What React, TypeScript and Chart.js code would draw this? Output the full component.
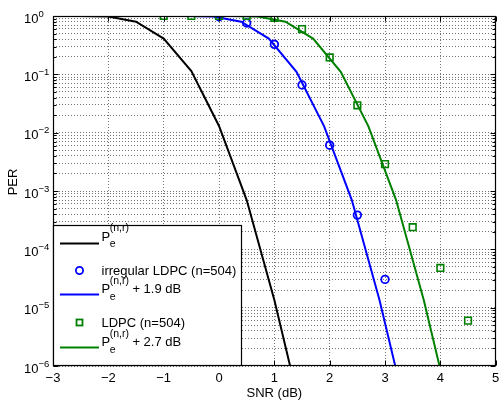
import React, { useEffect, useRef } from "react";
import { Chart, registerables } from "chart.js";

Chart.register(...registerables);

const FONT = "'Liberation Sans', Arial, Helvetica, sans-serif";

// Axis ranges and tick labels
const xAxisMin = -3;
const xAxisMax = 5;
const xTickValues = [-3, -2, -1, 0, 1, 2, 3, 4, 5];
const xTickLabels = ["\u22123", "\u22122", "\u22121", "0", "1", "2", "3", "4", "5"];
const yAxisMin = 1e-6;
const yAxisMax = 1;
const yDecadeValues = [1, 1e-1, 1e-2, 1e-3, 1e-4, 1e-5, 1e-6];
const yDecadeExponents = ["0", "\u22121", "\u22122", "\u22123", "\u22124", "\u22125", "\u22126"];
const xAxisTitle = "SNR (dB)";
const yAxisTitle = "PER";

// Series: P_e^(n,r)
const boundSnr = [-3, -2.5, -2, -1.5, -1, -0.5, 0, 0.5, 1, 1.5];
const boundPer = [1, 1, 0.98, 0.8, 0.41, 0.114, 0.013, 7.0e-4, 1.35e-5, 1.4e-7];
// Series: P_e^(n,r) + 1.9 dB
const bound19Snr = [-1.1, -0.6, -0.1, 0.4, 0.9, 1.4, 1.9, 2.4, 2.9, 3.4];
const bound19Per = [1, 1, 0.98, 0.8, 0.41, 0.11, 0.0128, 7.0e-4, 1.35e-5, 1.4e-7];
// Series: P_e^(n,r) + 2.7 dB
const bound27Snr = [-0.3, 0.2, 0.7, 1.2, 1.7, 2.2, 2.7, 3.2, 3.7, 4.2];
const bound27Per = [1, 1, 0.98, 0.8, 0.41, 0.11, 0.0128, 7.0e-4, 1.35e-5, 1.4e-7];
// Series: irregular LDPC (n=504)
const irregSnr = [0, 0.5, 1, 1.5, 2, 2.5, 3];
const irregPer = [0.97, 0.76, 0.327, 0.0656, 0.0061, 3.86e-4, 3.05e-5];
// Series: LDPC (n=504)
const ldpcSnr = [-1, -0.5, 0, 0.5, 1, 1.5, 2, 2.5, 3, 3.5, 4, 4.5];
const ldpcPer = [1, 1, 1, 1, 0.93, 0.598, 0.195, 0.0294, 0.00289, 2.4e-4, 4.8e-5, 6.0e-6];

const legendIrreg = "irregular LDPC (n=504)";
const legendLdpc = "LDPC (n=504)";
const legendPlus19 = "+ 1.9 dB";
const legendPlus27 = "+ 2.7 dB";

const BLACK = "#000000";
const BLUE = "#0000ff";
const GREEN = "#008000";

const pts = (xs: number[], ys: number[]) => xs.map((x, i) => ({ x, y: ys[i] }));

const isDecade = (v: number) => Math.abs(Math.log10(v) - Math.round(Math.log10(v))) < 1e-6;

function drawPe(ctx: CanvasRenderingContext2D, x: number, baseline: number, suffix?: string) {
  ctx.textAlign = "left";
  ctx.textBaseline = "alphabetic";
  ctx.font = `13px ${FONT}`;
  ctx.fillText("P", x, baseline);
  const pw = ctx.measureText("P").width;
  ctx.font = `10.5px ${FONT}`;
  ctx.fillText("(n,r)", x + pw - 0.5, baseline - 9.5);
  const sw = ctx.measureText("(n,r)").width;
  ctx.fillText("e", x + pw - 0.5, baseline + 6.8);
  if (suffix) {
    ctx.font = `13px ${FONT}`;
    ctx.fillText(suffix, x + pw - 0.5 + sw + 3.5, baseline);
  }
}

const overlayPlugin = {
  id: "matlabOverlay",
  afterDraw(chart: any) {
    const ctx: CanvasRenderingContext2D = chart.ctx;
    const { left, right, top, bottom } = chart.chartArea;
    const xs = chart.scales.x;
    const ys = chart.scales.y;
    const L = Math.round(left) + 0.5;
    const R = Math.round(right) - 0.5;
    const T = Math.round(top) + 0.5;
    const B = Math.round(bottom) - 0.5;
    ctx.save();
    // inside tick marks
    ctx.strokeStyle = BLACK;
    ctx.lineWidth = 1;
    ctx.beginPath();
    ys.ticks.forEach((t: any) => {
      const y = Math.round(ys.getPixelForValue(t.value)) + 0.5;
      const len = isDecade(t.value) ? 5 : 3;
      ctx.moveTo(L, y);
      ctx.lineTo(L + len, y);
      ctx.moveTo(R, y);
      ctx.lineTo(R - len, y);
    });
    xs.ticks.forEach((t: any) => {
      const x = Math.round(xs.getPixelForValue(t.value)) + 0.5;
      ctx.moveTo(x, B);
      ctx.lineTo(x, B - 5);
      ctx.moveTo(x, T);
      ctx.lineTo(x, T + 5);
    });
    ctx.stroke();
    // axes box
    ctx.lineWidth = 1.2;
    ctx.strokeRect(L, T, R - L, B - T);

    // legend
    const lx0 = L;
    const ly0 = 225.5;
    const lx1 = 241.5;
    const ly1 = B;
    ctx.fillStyle = "#ffffff";
    ctx.fillRect(lx0, ly0, lx1 - lx0, ly1 - ly0);
    ctx.strokeStyle = BLACK;
    ctx.lineWidth = 1.2;
    ctx.strokeRect(lx0, ly0, lx1 - lx0, ly1 - ly0);

    const sx0 = 60;
    const sx1 = 99;
    const mx = 79.5;
    const tx = 101.5;
    ctx.lineWidth = 2;
    // entry 1
    ctx.strokeStyle = BLACK;
    ctx.beginPath();
    ctx.moveTo(sx0, 243.5);
    ctx.lineTo(sx1, 243.5);
    ctx.stroke();
    ctx.fillStyle = BLACK;
    drawPe(ctx, tx, 240.5);
    // entry 2
    ctx.strokeStyle = BLUE;
    ctx.lineWidth = 1.8;
    ctx.beginPath();
    ctx.arc(mx, 270.5, 3.6, 0, Math.PI * 2);
    ctx.stroke();
    ctx.fillStyle = BLACK;
    ctx.font = `13px ${FONT}`;
    ctx.fillText(legendIrreg, tx, 274.8);
    // entry 3
    ctx.lineWidth = 2;
    ctx.beginPath();
    ctx.moveTo(sx0, 294.5);
    ctx.lineTo(sx1, 294.5);
    ctx.stroke();
    drawPe(ctx, tx, 293, legendPlus19);
    // entry 4
    ctx.strokeStyle = GREEN;
    ctx.lineWidth = 1.8;
    ctx.strokeRect(mx - 3, 322.5 - 3, 6, 6);
    ctx.font = `13px ${FONT}`;
    ctx.fillText(legendLdpc, tx, 327.3);
    // entry 5
    ctx.lineWidth = 2;
    ctx.beginPath();
    ctx.moveTo(sx0, 347.5);
    ctx.lineTo(sx1, 347.5);
    ctx.stroke();
    drawPe(ctx, tx, 346, legendPlus27);

    // x tick labels
    ctx.fillStyle = BLACK;
    ctx.font = `13px ${FONT}`;
    ctx.textAlign = "center";
    ctx.textBaseline = "alphabetic";
    xTickValues.forEach((v, i) => {
      ctx.fillText(xTickLabels[i], xs.getPixelForValue(v), 382);
    });
    // y tick labels 10^e
    yDecadeValues.forEach((v, i) => {
      const y = ys.getPixelForValue(v);
      ctx.textAlign = "left";
      ctx.font = `13px ${FONT}`;
      ctx.fillText("10", 24, y + 6.8);
      const w = ctx.measureText("10").width;
      ctx.font = `9.5px ${FONT}`;
      ctx.fillText(yDecadeExponents[i], 24 + w, y + 0.5);
    });
    // axis titles
    ctx.font = `13px ${FONT}`;
    ctx.textAlign = "center";
    ctx.fillText(xAxisTitle, (left + right) / 2, 397);
    ctx.save();
    ctx.translate(16.5, 182);
    ctx.rotate(-Math.PI / 2);
    ctx.fillText(yAxisTitle, 0, 0);
    ctx.restore();
    ctx.restore();
  },
};

export default function App() {
  const ref = useRef<HTMLCanvasElement | null>(null);
  useEffect(() => {
    if (!ref.current) return;
    const yGrid: number[] = [];
    for (let e = -6; e < 0; e++) {
      for (let m = 1; m <= 9; m++) yGrid.push(Number((m * Math.pow(10, e)).toPrecision(6)));
    }
    yGrid.push(1);
    const chart = new Chart(ref.current, {
      type: "line",
      data: {
        datasets: [
          {
            label: "bound27",
            data: pts(bound27Snr, bound27Per),
            borderColor: GREEN,
            borderWidth: 2,
            pointRadius: 0,
            fill: false,
            tension: 0,
          },
          {
            label: legendLdpc,
            data: pts(ldpcSnr, ldpcPer),
            showLine: false,
            pointStyle: "rect",
            pointRadius: 4.7,
            pointBorderWidth: 1.6,
            pointBorderColor: GREEN,
            pointBackgroundColor: "rgba(0,0,0,0)",
            borderColor: GREEN,
          },
          {
            label: "bound19",
            data: pts(bound19Snr, bound19Per),
            borderColor: BLUE,
            borderWidth: 2,
            pointRadius: 0,
            fill: false,
            tension: 0,
          },
          {
            label: legendIrreg,
            data: pts(irregSnr, irregPer),
            showLine: false,
            pointStyle: "circle",
            pointRadius: 3.8,
            pointBorderWidth: 1.8,
            pointBorderColor: BLUE,
            pointBackgroundColor: "rgba(0,0,0,0)",
            borderColor: BLUE,
          },
          {
            label: "bound",
            data: pts(boundSnr, boundPer),
            borderColor: BLACK,
            borderWidth: 2,
            pointRadius: 0,
            fill: false,
            tension: 0,
          },
        ],
      },
      options: {
        animation: false,
        responsive: false,
        layout: { padding: { left: 53, right: 6, top: 16, bottom: 38 } },
        plugins: { legend: { display: false }, tooltip: { enabled: false } },
        scales: {
          x: {
            type: "linear",
            min: xAxisMin,
            max: xAxisMax,
            afterBuildTicks: (s: any) => {
              s.ticks = xTickValues.map((v) => ({ value: v }));
            },
            ticks: { display: false },
            grid: { color: "rgba(0,0,0,0.55)", lineWidth: 1, drawTicks: false },
            border: { display: false, dash: [1, 2] },
          },
          y: {
            type: "logarithmic",
            min: yAxisMin,
            max: yAxisMax,
            afterBuildTicks: (s: any) => {
              s.ticks = yGrid.map((v) => ({ value: v, major: isDecade(v) }));
            },
            ticks: { display: false },
            grid: { color: "rgba(0,0,0,0.55)", lineWidth: 1, drawTicks: false },
            border: { display: false, dash: [1, 2] },
          },
        },
      },
      plugins: [overlayPlugin],
    } as any);
    return () => chart.destroy();
  }, []);
  return (
    <div style={{ position: "fixed", left: 0, top: 0, width: 502, height: 404, background: "#fff" }}>
      <canvas ref={ref} width={502} height={404} style={{ display: "block" }} />
    </div>
  );
}
